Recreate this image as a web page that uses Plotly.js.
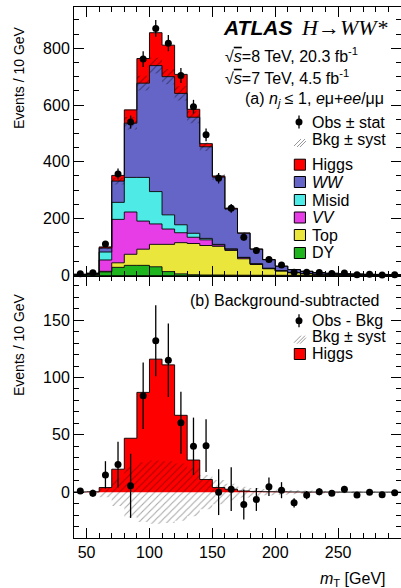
<!DOCTYPE html>
<html><head><meta charset="utf-8">
<script src="https://cdn.plot.ly/plotly-3.0.1.min.js"></script>
<style>html,body{margin:0;padding:0;overflow:hidden;background:#fff;width:401px;height:588px}#chart{width:403px;height:588px}</style>
</head><body><div id="chart"></div>
<script>
// ---- data (10 GeV bins, 40-300 GeV) ----
const binEdges = [40,50,60,70,80,90,100,110,120,130,140,150,160,170,180,190,200,210,220,230,240,250,260,270,280,290,300];
const binCenters = [45,55,65,75,85,95,105,115,125,135,145,155,165,175,185,195,205,215,225,235,245,255,265,275,285,295];
const dyVals    = [1,3,12,28,35,35,30,13,5,2,1,1,0.5,0.3,0.1,0,0,0,0,0,0,0,0,0,0,0];
const topVals   = [0.5,1,2,16,39,57,79,96,110,110,104,101,87,58,38,23,15,9,5.5,4,3,2.3,2,1.5,1.2,1];
const vvVals    = [0.5,1,40,153,149,99,72,54,35,22,20,5,4,4,2,1,1,0.5,0.5,0.3,0.2,0.2,0.1,0.1,0.1,0.1];
const misidVals = [0.5,1,28,60,122,154,114,50,28,14,5,2,2,1,1,1,0.5,0.5,0.3,0.2,0.2,0.1,0.1,0.1,0.1,0.1];
const wwVals    = [1,1,14,75,191,332,444,487,463,409,323,237,140,85,51,30,15.5,10,7.7,5,3.6,2.9,2.3,1.8,1.6,1.3];
const higgsVals = [0.2,0.3,4,20,47,87,116,111,67,28,11,4,2.5,1,0.6,0.4,0.3,0.2,0.1,0.1,0.1,0,0,0,0,0];
const systVals  = [0.3,0.6,4.5,12,22,26,27.5,27,25,21,15,10.5,7.3,4.7,3.5,2.8,2.2,1.8,1.5,1.2,1.0,0.9,0.8,0.7,0.6,0.5];
const obsVals   = [5,9,110,357,540,762,870,818,704,594,495,342,236,134,87,56,36,11,11,10,6,8,2,3.5,1,2];
const obsErr    = [2.2,3,10.5,19,23,27.6,29.5,28.6,26.5,24.4,22.2,18.5,15.4,11.6,9.3,7.5,6,3.3,3.3,3.2,2.4,2.8,1.4,1.9,1,1.4];
const diffVals  = [1,-1,15,24,5.5,84,132,115,60.5,40,40.5,0,2.6,-10.8,-6.4,4.7,1.7,-9.3,-2.6,0.3,-0.9,2.6,-2.6,0,-2.3,-0.6];
const diffErr   = [2.5,3,12,20,28,29,31,32,27,25,23,20,19,13,10,8,7,4,3.5,3,2.5,2.8,2,2,1.5,1.5];

const colors = {higgs:'#ff0000', ww:'#6565c8', misid:'#4deae6', vv:'#e63de6', top:'#eae63c', dy:'#1eb41e'};

const step = v => v.concat([v[v.length-1]]);
const bkgTotal = binCenters.map((_,i)=>dyVals[i]+topVals[i]+vvVals[i]+misidVals[i]+wwVals[i]);

const traces = [];
const stackDefs = [[dyVals,colors.dy],[topVals,colors.top],[vvVals,colors.vv],[misidVals,colors.misid],[wwVals,colors.ww],[higgsVals,colors.higgs]];
stackDefs.forEach(([v,c])=>{
  traces.push({type:'scatter', mode:'lines', x:binEdges, y:step(v), stackgroup:'bkg',
    line:{shape:'hv', color:'#000', width:0.9}, fillcolor:c, xaxis:'x2', yaxis:'y2', hoverinfo:'skip'});
});
// syst band top panel
traces.push({type:'scatter', mode:'lines', x:binEdges, y:step(bkgTotal.map((b,i)=>b-systVals[i])),
  line:{shape:'hv', width:0, color:'rgba(0,0,0,0)'}, xaxis:'x2', yaxis:'y2', hoverinfo:'skip'});
traces.push({type:'scatter', mode:'lines', x:binEdges, y:step(bkgTotal.map((b,i)=>b+systVals[i])),
  line:{shape:'hv', width:0, color:'rgba(0,0,0,0)'}, fill:'tonexty', fillcolor:'rgba(0,0,0,0)',
  fillpattern:{shape:'/', fgcolor:'rgba(0,0,0,0.45)', bgcolor:'rgba(0,0,0,0)', fillmode:'replace', size:5, solidity:0.2},
  xaxis:'x2', yaxis:'y2', hoverinfo:'skip'});
traces.push({type:'scatter', mode:'markers', x:binCenters, y:obsVals,
  error_y:{type:'data', array:obsErr, color:'#000', thickness:1.3, width:0},
  marker:{color:'#000', size:7}, xaxis:'x2', yaxis:'y2', cliponaxis:false});

// bottom panel
traces.push({type:'scatter', mode:'lines', x:binEdges, y:step(higgsVals), fill:'tozeroy', fillcolor:colors.higgs,
  line:{shape:'hv', color:'#000', width:0.9}, xaxis:'x', yaxis:'y', hoverinfo:'skip'});
traces.push({type:'scatter', mode:'lines', x:binEdges, y:step(systVals.map(s=>-s)),
  line:{shape:'hv', width:0, color:'rgba(0,0,0,0)'}, xaxis:'x', yaxis:'y', hoverinfo:'skip'});
traces.push({type:'scatter', mode:'lines', x:binEdges, y:step(systVals),
  line:{shape:'hv', width:0, color:'rgba(0,0,0,0)'}, fill:'tonexty', fillcolor:'rgba(0,0,0,0)',
  fillpattern:{shape:'/', fgcolor:'rgba(0,0,0,0.35)', bgcolor:'rgba(0,0,0,0)', fillmode:'replace', size:5, solidity:0.2},
  xaxis:'x', yaxis:'y', hoverinfo:'skip'});
traces.push({type:'scatter', mode:'markers', x:binCenters, y:diffVals,
  error_y:{type:'data', array:diffErr, color:'#000', thickness:1.3, width:0},
  marker:{color:'#000', size:7}, xaxis:'x', yaxis:'y'});

// ---- layout helpers (pixel -> paper) ----
const L=74, T=7, W=327, H=531;
const px = x => (x-L)/W;
const py = y => (T+H-y)/H;
const FONT = 'Liberation Sans, Arial, Helvetica, sans-serif';

const axisBase = {ticks:'inside', tickcolor:'#000', tickwidth:1, ticklen:10, showline:true, linecolor:'#000', linewidth:1,
  mirror:'ticks', showgrid:false, zeroline:false, tickfont:{family:FONT, size:16, color:'#000'}};

const ann = [];
const A = (text, x, y, xanchor, size, extra) => ann.push(Object.assign({text, x:px(x), y:py(y), xref:'paper', yref:'paper',
  xanchor, yanchor:'middle', showarrow:false, font:{family:FONT, size, color:'#000'}}, extra||{}));

A('<b><i>ATLAS</i></b>', 221, 28, 'left', 21);
A('<i>H</i>\u2192<i>WW*</i>', 299, 28, 'left', 22, {font:{family:'Liberation Serif, Times New Roman, serif', size:22, color:'#000'}});
A('\u221A<span style="text-decoration:overline"><i>s</i></span>=8 TeV, 20.3 fb<sup>-1</sup>', 223, 55, 'left', 16);
A('\u221A<span style="text-decoration:overline"><i>s</i></span>=7 TeV, 4.5 fb<sup>-1</sup>', 223, 77, 'left', 16);
A('(a) <i>n<sub>j</sub></i> \u2264 1, <i>e</i>\u03BC+<i>ee</i>/\u03BC\u03BC', 386, 99, 'right', 16);
const legTop = [['Obs \u00B1 stat',122],['Bkg \u00B1 syst',140],['Higgs',164.7],['<i>WW</i>',182],['Misid',200],['<i>VV</i>',217.5],['Top',235],['DY',253]];
legTop.forEach(([t,y])=>A(t, 310, y, 'left', 16));
A('(b) Background-subtracted', 381, 300, 'right', 16);
[['Obs - Bkg',320.7],['Bkg \u00B1 syst',336.7],['Higgs',354]].forEach(([t,y])=>A(t, 310, y, 'left', 16));
A('Events / 10 GeV', 19, 78, 'center', 14, {textangle:-90});
A('Events / 10 GeV', 19, 345, 'center', 14, {textangle:-90});
A('<i>m</i><sub>T</sub> [GeV]', 388, 579, 'right', 16);

const shapes = [];
const dot = y => {
  shapes.push({type:'circle', xref:'paper', yref:'paper', xsizemode:'pixel', ysizemode:'pixel', xanchor:px(299), yanchor:py(y),
    x0:-3.5, x1:3.5, y0:-3.5, y1:3.5, fillcolor:'#000', line:{width:0}});
  shapes.push({type:'line', xref:'paper', yref:'paper', x0:px(299), x1:px(299), y0:py(y-6.5), y1:py(y+6.5), line:{color:'#000', width:1.3}});
};
const hatch = y => {
  [[294,y+6,301,y-1],[297,y+7,305,y-1],[300,y+7,306,y+1]].forEach(([x0,y0,x1,y1])=>
    shapes.push({type:'line', xref:'paper', yref:'paper', x0:px(x0), y0:py(y0), x1:px(x1), y1:py(y1), line:{color:'#999', width:1}}));
};
const box = (y,c) => shapes.push({type:'rect', xref:'paper', yref:'paper', x0:px(294.3), x1:px(305.5), y0:py(y-5.5), y1:py(y+5.5),
  fillcolor:c, line:{color:'#000', width:1}});
dot(122); hatch(140);
box(164.7,colors.higgs); box(182,colors.ww); box(200,colors.misid); box(217.5,colors.vv); box(235,colors.top); box(253,colors.dy);
dot(320.7); hatch(336.7); box(354,colors.higgs);

const layout = {
  width:403, height:588, margin:{l:L, r:403-L-W, t:T, b:588-T-H},
  paper_bgcolor:'#fff', plot_bgcolor:'rgba(0,0,0,0)', showlegend:false,
  font:{family:FONT, size:16, color:'#000'},
  xaxis: Object.assign({}, axisBase, {domain:[0,1], range:[40,300], anchor:'y', tickvals:[50,100,150,200,250],
    minor:{tick0:40, dtick:10, ticks:'inside', ticklen:5, tickcolor:'#000', tickwidth:1}}),
  yaxis: Object.assign({}, axisBase, {domain:[0,262/H], range:[-40,188.5], anchor:'x', tickvals:[0,50,100,150],
    minor:{tick0:0, dtick:10, ticks:'inside', ticklen:5, tickcolor:'#000', tickwidth:1}}),
  xaxis2: Object.assign({}, axisBase, {domain:[0,1], range:[40,300], anchor:'y2', matches:'x', showticklabels:false, tickvals:[50,100,150,200,250],
    minor:{tick0:40, dtick:10, ticks:'inside', ticklen:5, tickcolor:'#000', tickwidth:1}}),
  yaxis2: Object.assign({}, axisBase, {domain:[262/H,1], range:[-2.5,945.5], anchor:'x2', tickvals:[0,200,400,600,800],
    minor:{tick0:0, dtick:50, ticks:'inside', ticklen:5, tickcolor:'#000', tickwidth:1}}),
  annotations: ann, shapes: shapes
};
Plotly.newPlot('chart', traces, layout, {staticPlot:true, displayModeBar:false});
</script></body></html>
